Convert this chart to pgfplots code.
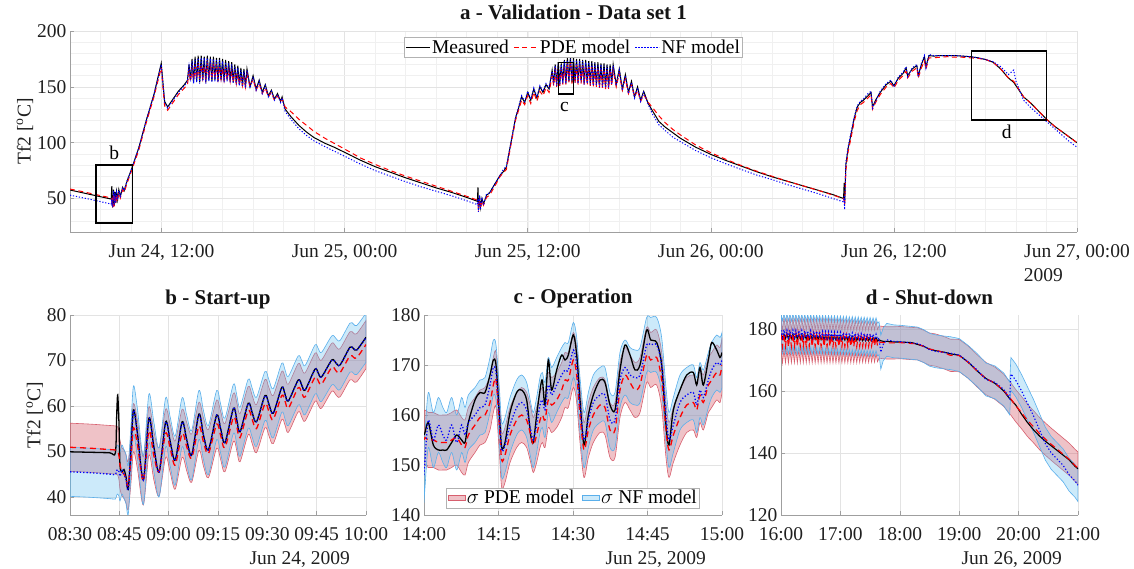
\documentclass[border=0pt]{standalone}
\usepackage{fontspec}
\setmainfont{Liberation Serif}
\usepackage{pgfplots}
\usepackage{pgfplotstable}
\pgfplotsset{compat=1.18}
\usepgfplotslibrary{fillbetween}

\newcommand\fs{\fontsize{19.5}{22}\selectfont}
\newcommand\ft{\fontsize{21}{24}\selectfont\bfseries}

\definecolor{pdefill}{RGB}{210,80,95}
\definecolor{pdeedge}{RGB}{215,95,110}
\definecolor{nffill}{RGB}{100,190,240}
\definecolor{nfedge}{RGB}{90,175,235}

% top panel: hours from Jun 24 00:00
\pgfplotstableread{
t M P N
6.0 57.6 58.5 53.0
7.0 54.6 55.6 50.2
8.0 51.6 52.6 47.2
8.70 49.5 50.5 45.0
8.74 61.0 50.0 50.0
8.76 46.0 47.0 44.0
8.80 42.0 42.0 42.0
8.85 58.0 55.0 57.0
8.90 44.0 43.0 44.0
8.95 56.0 53.0 55.0
9.00 46.0 45.0 46.0
9.05 56.0 53.5 55.0
9.12 49.0 48.0 49.0
9.20 58.0 55.5 57.0
9.30 52.0 50.5 52.0
9.45 60.0 58.0 60.0
9.55 57.0 55.5 57.0
9.75 66.0 64.0 66.0
10.0 75.0 73.5 75.0
10.5 95.0 93.0 95.0
11.0 120.0 118.0 120.0
11.5 143.0 141.0 143.0
11.98 171.0 167.0 170.0
12.2 137.0 133.0 136.0
12.4 132.0 129.0 131.0
12.8 140.0 137.0 139.0
13.1 146.0 143.0 145.0
13.5 152.0 149.0 151.0
13.7 156.0 152.0 155.0
13.8 170 164 168
13.9 156 155 155
14.0 175 167 173
14.1 154 156 153
14.2 177 168 175
14.3 155 157 154
14.4 178 169 176
14.5 154 157 153
14.6 178 170 176
14.7 156 158 155
14.8 177 169 176
14.9 154 157 153
15.0 178 170 176
15.1 156 158 155
15.2 177 169 175
15.3 155 157 154
15.4 177 169 175
15.5 156 158 155
15.6 176 168 174
15.7 155 157 154
15.8 176 168 174
15.9 156 157 155
16.0 175 167 173
16.1 155 156 154
16.2 174 166 172
16.3 156 156 155
16.4 173 165 171
16.5 155 155 154
16.6 172 164 170
16.7 154 154 153
16.8 170 163 168
16.9 153 153 152
17.0 169 162 167
17.1 152 152 151
17.2 167 160 165
17.3 151 151 150
17.4 166 159 164
17.5 150 150 149
17.6 166 162 165
17.8 150 150 149
18.0 160 157 159
18.2 148 147 147
18.4 156 153 155
18.6 145 144 144
18.8 152 149 151
19.0 142 141 141
19.2 147 145 146
19.4 139 138 138
19.6 144 142 143
19.8 137 137 136
19.9 141 139 140
20.1 130 132 128
20.5 123 127.5 120.5
21.0 115.5 121 112.5
21.5 109.5 115.5 106.5
22.0 104.5 110 101.5
22.7 99.5 104 96.5
23.3 96 99.5 92.5
23.9 92 95 88.5
24.5 88 90.5 84.5
25.0 84.5 86.5 81
26.0 78.5 80.5 75
27.0 73.5 75 70
28.0 68.5 70 65
29.0 64 65.5 60.5
30.0 59.5 61 56.5
31.0 55.5 56.5 52.5
32.0 51 52 48
32.70 47.5 48.5 44.5
32.74 60 47.5 50
32.77 40 42 38
32.85 52 50 53
32.9 42 41 40
33.0 50 48 51
33.1 45 44 44
33.3 53 51 54
33.5 55 53 55
33.8 62 60 62
34.2 71 70 71
34.4 74 73 76
34.6 78 76 79
34.9 100 98 100
35.2 122 120 122
35.4 131 129 132
35.6 141 138 142
35.8 136 134 137
36.0 145 142 146
36.2 138 135 139
36.4 148 145 149
36.6 140 137 141
36.8 150 146 151
37.0 145 142 146
37.2 152 149 153
37.4 148 145 149
37.6 165 160 164
37.7 153 151 152
37.8 170 164 169
37.9 152 150 151
38.0 172 166 171
38.1 153 151 152
38.2 171 167 170
38.3 154 152 153
38.4 174 168 173
38.5 153 152 153
38.6 176 171 174
38.7 155 154 155
38.8 177 172 175
38.9 154 153 155
39.0 176 171 174
39.1 155 153 154
39.2 175 170 174
39.3 154 152 153
39.4 175 170 173
39.5 155 153 154
39.6 174 169 173
39.7 153 152 152
39.8 174 169 172
39.9 154 152 153
40.0 173 168 172
40.1 153 151 152
40.2 173 168 171
40.3 152 150 151
40.4 172 167 171
40.5 152 150 151
40.6 172 167 170
40.7 151 149 150
40.8 171 166 170
40.9 151 149 150
41.0 171 166 169
41.1 150 148 149
41.2 170 165 169
41.3 150 148 149
41.4 170 165 168
41.5 153 151 152
41.6 170 165 169
41.8 152 150 151
42.0 166 162 165
42.2 148 147 147
42.4 161 157 160
42.6 145 144 144
42.8 155 152 154
43.0 141 141 140
43.2 150 147 149
43.4 138 137 137
43.6 146 143 145
43.9 135 136 134
44.2 128 131 125
44.6 119 124 116
45.0 114 118 111
45.5 109 112 105
46.0 104 107 101
47.0 96 98 93
48.0 89.5 91 86.5
49.0 84 85 81
50.0 79 79.5 76
51.0 74 74.5 71
52.0 69.5 70 67
53.0 65.5 65.5 62.5
54.0 61.5 61.5 58.5
55.0 57.5 57.5 54.5
56.0 53.5 53 50
56.70 50 50 47
56.74 64 48 52
56.77 45 44 40
56.85 80 75 82
57.0 95 92 96
57.2 108 105 110
57.4 122 119 123
57.6 132 129 133
57.8 136 134 137
58.0 138 136 139
58.3 142 140 144
58.5 145 143 146
58.6 132 130 131
58.8 138 136 137
59.1 145 143 146
59.5 152 150 153
59.8 155 153 156
60.0 151 149 150
60.3 158 156 159
60.6 162 160 163
60.8 167 164 168
60.9 160 158 159
61.2 166 164 167
61.5 169 167 170
61.6 160 158 159
61.8 170 167 171
62.0 177 173 178
62.1 168 166 167
62.3 178 176 179
62.6 177.5 176 178
63.0 178 176.5 178
63.5 178 177 178
64.0 178 176.5 178
64.5 177.5 176.5 177.5
65.0 177 176 177
65.5 176 175.5 176
66.0 174.5 174.5 174.5
66.5 172 172 172.5
67.0 166 166 168
67.5 158 158 161
67.85 154 155 165
68.0 151 152 155
68.5 141 141 138
69.0 135 135 131
69.5 128 128 125
70.0 121 121 119
70.5 115 115 113
71.0 110 110 107
71.5 105 105 101
72.0 100 100 96
}\tabA

% panel b: minutes from 08:30, Jun 24
\pgfplotstableread{
t M P N sP sN
0 49.9 50.9 45.5 5.3 5.4
6 49.8 50.7 45.3 5.3 5.4
12 49.7 50.4 45.0 5.3 5.4
13.8 49.7 50.3 44.9 5.3 5.4
14.2 58 50.2 45.8 5.3 5.4
14.5 62.4 50.1 46.0 5.3 5.4
14.9 56 49 45.5 5.3 5.4
15.2 47 47 44.5 5.3 5.4
15.8 45.5 45.5 46.0 5.3 5.4
16.4 46 45 45 5.3 5.4
17.0 44.5 44 44 5.3 5.4
17.7 41.6 42.5 41.5 5.3 5.4
18.5 50 48 50 5.3 5.4
19.3 59.1 55.2 59 5.3 5.4
20.5 54 51.5 54 5.3 5.4
22.3 43.7 43.5 43.7 5.3 5.4
24.0 57.3 54.5 57.2 5.3 5.4
25.5 51 49 51 5.3 5.4
27.1 45.5 45.5 45.4 5.3 5.4
29.1 56.5 54 56.4 5.3 5.4
30.5 52 50.5 52 5.3 5.4
32.0 48.1 47 48 5.3 5.4
34.1 56.5 54 56.4 5.3 5.4
35.5 52.5 51 52.5 5.3 5.4
37.0 49.2 48.5 49.2 5.3 5.4
39.2 58.2 55.5 58 5.3 5.4
40.6 53.5 52 53.5 5.3 5.4
42.1 50.3 49.5 50.3 5.3 5.4
44.6 58.0 56 58 5.3 5.4
45.8 55 53.5 55 5.3 5.4
47.1 51.9 50.8 51.9 5.3 5.4
49.7 59.5 57.5 59.4 5.3 5.4
50.7 57 55.5 57 5.3 5.4
51.7 54.3 53 54.3 5.3 5.4
54.2 60.6 59 60.5 5.3 5.4
55.4 58.5 57 58.5 5.3 5.4
56.7 56.5 55 56.5 5.3 5.4
59.3 62.3 60.5 62.2 5.3 5.4
60.5 60.3 58.7 60.3 5.3 5.4
61.8 58.4 57 58.4 5.3 5.4
64.4 64.1 62.3 64 5.3 5.4
65.4 62.5 61 62.5 5.3 5.4
66.4 61.1 59.5 61.1 5.3 5.4
69.4 65.7 64 65.6 5.3 5.4
70.5 64.5 62.8 64.5 5.3 5.4
71.5 63.5 62 63.5 5.3 5.4
74.5 68.1 66.3 68 5.3 5.4
75.5 67.2 65.5 67.2 5.3 5.4
76.5 66.4 64.8 66.4 5.3 5.4
79.6 70.1 68.5 70 5.3 5.4
80.8 69.5 67.8 69.5 5.3 5.4
82.1 69 67.3 69 5.3 5.4
85.1 72.9 71 72.8 5.3 5.4
86.2 72.6 70.7 72.6 5.3 5.4
87.2 72.3 70.6 72.3 5.3 5.4
90 75.1 73.5 75 5.3 5.4
}\tabB

% panel c: minutes from 14:00, Jun 25
\pgfplotstableread{
t M P N sP sN
0 156 155 148 5.5 5.5
0.2 156.5 155.5 151 5.5 5.5
0.87 158.5 155 159 5.5 5.5
1.88 154 155 155 5.5 5.5
2.89 153 154.5 158 5.5 5.5
3.8 153 154.5 156 5.5 5.5
4.56 153 154.5 155 5.5 5.5
5.57 154.5 155 158 5.5 5.5
6.58 156 155.5 154.5 5.5 5.5
7.58 155 154 158 5.5 5.5
8.26 154.5 153.5 156 5.5 5.5
8.93 158.5 156 158.5 5.5 5.5
10.27 163 158 160 5.5 5.5
11.28 164.5 159.5 161.5 5.5 5.5
12.28 164.5 160 162 5.5 5.5
13.29 168 162.5 166 5.5 5.5
13.96 171 166 169.5 5.5 5.5
14.5 170 167 168.5 5.5 5.5
15.17 160 158 160 5.5 5.5
15.64 153.5 151 153 5.5 5.5
16.31 154.5 152 154 5.5 5.5
17.32 160.5 156 158 5.5 5.5
18.66 164.5 159 161.5 5.5 5.5
19.66 165 160 162.5 5.5 5.5
20.67 163 159 161 5.5 5.5
21.48 156 156 157 5.5 5.5
22.01 154.5 154 155 5.5 5.5
22.68 160 156 158 5.5 5.5
23.36 165 159 162 5.5 5.5
23.83 167 160 163 5.5 5.5
24.36 162 159 161 5.5 5.5
25.03 171 163 166 5.5 5.5
25.7 165 162 164 5.5 5.5
26.71 169 163 166 5.5 5.5
27.72 172 165 168 5.5 5.5
28.39 171 167 169 5.5 5.5
29.06 172 167 169 5.5 5.5
30.07 176 171 173 5.5 5.5
30.74 172 168 170 5.5 5.5
31.41 163 160 162 5.5 5.5
32.21 154 153 155 5.5 5.5
33.09 160 157 159 5.5 5.5
34.09 164 160 162.5 5.5 5.5
35.44 167 162 164 5.5 5.5
36.44 166.5 161.5 164 5.5 5.5
37.45 162 157 159 5.5 5.5
38.46 161 157 159 5.5 5.5
39.46 169 165 167 5.5 5.5
40.47 174 168 169.5 5.5 5.5
41.48 172 166.5 168 5.5 5.5
42.48 169 165 167.5 5.5 5.5
43.49 170 166 168 5.5 5.5
44.83 177 172 174 5.5 5.5
45.64 175 171 174 5.5 5.5
46.85 174.5 171.5 174 5.5 5.5
47.85 170 167 170 5.5 5.5
48.72 158 157 160 5.5 5.5
49.33 154 153 155 5.5 5.5
50.2 161 156 158 5.5 5.5
51.54 165 159.5 162.5 5.5 5.5
52.89 168 162 164 5.5 5.5
54.23 168.5 162.5 164.5 5.5 5.5
54.9 166 161 162 5.5 5.5
55.57 169.5 164 165 5.5 5.5
56.24 166 162.5 163.5 5.5 5.5
57.25 171 166 167 5.5 5.5
57.92 174.5 167 169 5.5 5.5
58.93 173 168.5 170.5 5.5 5.5
59.6 171.5 168 170 5.5 5.5
60 172.5 170 171 5.5 5.5
}\tabC

% panel d: hours, Jun 26
\pgfplotstableread{
t M P N sP sN
16.000 178.3 178.5 179.6 5.2 5.3
16.025 176.9 174.2 177.3 5.2 5.3
16.050 178.3 178.6 179.7 5.2 5.3
16.075 176.9 174.3 177.3 5.2 5.3
16.100 178.3 178.5 179.6 5.2 5.3
16.125 176.9 174.2 177.3 5.2 5.3
16.150 178.2 178.6 179.6 5.2 5.3
16.175 176.9 174.3 177.2 5.2 5.3
16.200 178.2 178.5 179.6 5.2 5.3
16.225 176.8 174.3 177.3 5.2 5.3
16.250 178.2 178.6 179.5 5.2 5.3
16.275 176.8 174.2 177.2 5.2 5.3
16.300 178.2 178.5 179.5 5.2 5.3
16.325 176.8 174.3 177.2 5.2 5.3
16.350 178.1 178.5 179.5 5.2 5.3
16.375 176.8 174.3 177.2 5.2 5.3
16.400 178.1 178.4 179.4 5.2 5.3
16.425 176.7 174.3 177.2 5.2 5.3
16.450 178.1 178.5 179.4 5.2 5.3
16.475 176.7 174.3 177.1 5.2 5.3
16.500 178.0 178.4 179.4 5.2 5.3
16.525 176.7 174.3 177.1 5.2 5.3
16.550 178.0 178.4 179.3 5.2 5.3
16.575 176.7 174.3 177.1 5.2 5.3
16.600 178.0 178.3 179.3 5.2 5.3
16.625 176.6 174.3 177.1 5.2 5.3
16.650 177.9 178.3 179.2 5.2 5.3
16.675 176.6 174.3 177.0 5.2 5.3
16.700 177.9 178.3 179.2 5.2 5.3
16.725 176.6 174.3 177.0 5.2 5.3
16.750 177.9 178.2 179.1 5.2 5.3
16.775 176.5 174.3 177.0 5.2 5.3
16.800 177.8 178.2 179.1 5.2 5.3
16.825 176.5 174.3 177.0 5.2 5.3
16.850 177.8 178.1 179.0 5.2 5.3
16.875 176.5 174.3 176.9 5.2 5.3
16.900 177.7 178.1 179.0 5.2 5.3
16.925 176.5 174.3 176.9 5.2 5.3
16.950 177.7 178.0 178.9 5.2 5.3
16.975 176.4 174.3 176.9 5.2 5.3
17.000 177.7 178.0 178.9 5.2 5.3
17.025 176.4 174.3 176.9 5.2 5.3
17.050 177.6 177.9 178.8 5.2 5.3
17.075 176.4 174.3 176.8 5.2 5.3
17.100 177.6 177.9 178.8 5.2 5.3
17.125 176.4 174.3 176.8 5.2 5.3
17.150 177.5 177.8 178.7 5.2 5.3
17.175 176.3 174.3 176.8 5.2 5.3
17.200 177.5 177.8 178.7 5.2 5.3
17.225 176.3 174.3 176.8 5.2 5.3
17.250 177.4 177.7 178.6 5.2 5.3
17.275 176.3 174.3 176.7 5.2 5.3
17.300 177.4 177.7 178.6 5.2 5.3
17.325 176.3 174.4 176.7 5.2 5.3
17.350 177.3 177.6 178.5 5.2 5.3
17.375 176.2 174.4 176.7 5.2 5.3
17.400 177.3 177.6 178.5 5.2 5.3
17.425 176.2 174.4 176.7 5.2 5.3
17.450 177.3 177.5 178.4 5.2 5.3
17.475 176.2 174.4 176.6 5.2 5.3
17.500 177.2 177.5 178.4 5.2 5.3
17.525 176.2 174.5 176.6 5.2 5.3
17.550 177.2 177.4 178.3 5.2 5.3
17.575 176.1 174.5 176.6 5.2 5.3
17.600 177.1 177.3 178.3 5.2 5.3
17.625 176.1 174.6 176.6 5.2 5.3
17.650 176.5 175.8 177.0 5.2 5.3
17.680 176.2 175.7 172.5 5.2 5.5
17.720 176.0 175.6 175.0 5.2 5.3
17.780 176.0 175.5 176.5 5.2 5.3
17.900 175.8 175.5 176.0 5.2 5.3
18.000 175.8 175.6 175.9 5.2 5.3
18.200 175.6 175.3 175.5 5.2 5.3
18.300 175.0 175.2 175.3 5.2 5.3
18.400 174.4 174.4 174.5 5.2 5.3
18.500 173.5 173.5 173.3 5.2 5.3
18.600 173.0 173.2 172.8 5.2 5.3
18.750 172.5 172.3 172.4 5.2 5.3
18.850 172.0 171.5 172.2 5.2 5.3
19.000 171.5 171.4 171.6 5.2 5.3
19.150 169.3 169.3 169.4 5.2 5.3
19.300 166.5 166.5 166.8 5.2 5.3
19.450 164.0 164.0 163.7 5.2 5.3
19.600 162.5 162.5 162.8 5.2 5.3
19.750 160.0 160.2 160.5 5.2 5.3
19.850 157.5 157.8 157.6 5.2 5.3
19.870 157.2 157.4 165.5 5.2 5.3
19.950 155.5 155.3 163.5 5.2 5.3
20.050 152.5 153.0 160.0 5.2 5.3
20.150 149.8 150.5 156.0 5.2 5.3
20.250 147.5 148.5 152.0 5.2 5.3
20.350 145.5 146.3 147.5 5.2 5.3
20.450 143.8 144.5 143.0 5.2 5.3
20.550 142.3 142.8 140.0 5.2 5.3
20.650 140.8 141.2 138.0 5.2 5.3
20.750 139.3 139.6 136.0 5.2 5.3
20.850 137.8 138.0 133.0 5.2 5.3
20.950 135.7 136.0 131.0 5.2 5.3
21.000 134.9 135.1 129.6 5.2 5.3
}\tabD

\pgfplotsset{
  myax/.style={
    scale only axis,
    axis x line*=bottom, axis y line*=left,
    axis line style={gray!75,-},
    tick align=inside, major tick length=4pt, minor tick length=0pt,
    tick style={gray!75, line width=0.5pt},
    major grid style={gray!22, line width=0.5pt},
    minor grid style={gray!12, line width=0.4pt},
    tick label style={font=\fs, text=black!88},
    xticklabel style={yshift=-9pt},
    label style={font=\fs, text=black!88},
    ylabel shift=-3pt,
    xlabel style={at={(axis description cs:1,0)}, anchor=north east, inner sep=0pt, xshift=-16pt, yshift=-36pt},
    title style={font=\ft, text=black!92, at={(0.5,1)}, anchor=base, yshift=5pt, inner sep=0pt},
    /pgf/number format/assume math mode=true,
  },
  meas/.style={black, line width=1.3pt},
  pde/.style={red, line width=1.3pt, dash pattern=on 6pt off 4pt},
  nf/.style={blue, line width=1.3pt, dash pattern=on 1.3pt off 2pt},
  pdeband/.style={fill=pdefill, fill opacity=0.35, draw=pdeedge, line width=0.6pt},
  nfband/.style={fill=nffill, fill opacity=0.33, draw=nfedge, line width=0.6pt},
}

\begin{document}
\begin{tikzpicture}

% ---------------- a ----------------
\begin{axis}[myax, at={(70pt,336pt)}, anchor=south west,
  width=1007pt, height=201pt,
  xmin=6, xmax=72, ymin=20, ymax=200,
  xtick={12,24,36,48,60,72},
  xticklabels={{Jun 24, 12:00},{Jun 25, 00:00},{Jun 25, 12:00},{Jun 26, 00:00},{Jun 26, 12:00},{Jun 27, 00:00}},
  minor xtick={6,8,...,72},
  ytick={50,100,150,200},
  minor ytick={20,30,...,200},
  grid=both,
  xlabel={2009},
  xlabel style={xshift=2pt, yshift=0pt},
  ylabel={Tf2 [\textsuperscript{o}C]},
  title={a - Validation - Data set 1},
  legend columns=3,
  legend image code/.code={\draw[#1] (0pt,0pt) -- (24pt,0pt);},
  legend style={at={(0.5,0.97)}, anchor=north, font=\fs, draw=gray!60, fill=white,
    inner sep=1pt, nodes={inner sep=1.5pt},
    /tikz/every even column/.append style={column sep=3pt}},
]
\addplot[black, line width=1pt] table[x=t,y=M]{\tabA};
\addlegendentry{Measured}
\addplot[red, line width=1pt, dash pattern=on 5pt off 3.5pt] table[x=t,y=P]{\tabA};
\addlegendentry{PDE model}
\addplot[blue, line width=1pt, dash pattern=on 1.2pt off 1.8pt] table[x=t,y=N]{\tabA};
\addlegendentry{NF model}
\draw[black, line width=1.2pt] (axis cs:7.7,28) rectangle (axis cs:10.1,80);
\node[font=\fs] at (axis cs:8.9,90.5) {b};
\draw[black, line width=1.2pt] (axis cs:38,143.5) rectangle (axis cs:39,172);
\node[font=\fs] at (axis cs:38.4,132) {c};
\draw[black, line width=1.2pt] (axis cs:65.1,120.3) rectangle (axis cs:70.0,182);
\node[font=\fs] at (axis cs:67.4,110) {d};
\end{axis}

% ---------------- b ----------------
\begin{axis}[myax, at={(70pt,53pt)}, anchor=south west,
  width=296pt, height=200pt,
  xmin=0, xmax=90, ymin=36, ymax=80,
  xtick={0,15,30,45,60,75,90},
  xticklabels={08:30,08:45,09:00,09:15,09:30,09:45,10:00},
  ytick={40,50,60,70,80},
  grid=major,
  xlabel={Jun 24, 2009},
  ylabel={Tf2 [\textsuperscript{o}C]},
  title={b - Start-up},
]
\addplot[name path=bpu, draw=none, forget plot, smooth] table[x=t, y expr=\thisrow{P}+\thisrow{sP}]{\tabB};
\addplot[name path=bpl, draw=none, forget plot, smooth] table[x=t, y expr=\thisrow{P}-\thisrow{sP}]{\tabB};
\addplot[pdeband, forget plot] fill between[of=bpu and bpl];
\addplot[name path=bnu, draw=none, forget plot, smooth] table[x=t, y expr=\thisrow{N}+\thisrow{sN}]{\tabB};
\addplot[name path=bnl, draw=none, forget plot, smooth] table[x=t, y expr=\thisrow{N}-\thisrow{sN}]{\tabB};
\addplot[nfband, forget plot] fill between[of=bnu and bnl];
\addplot[meas, smooth, forget plot] table[x=t,y=M]{\tabB};
\addplot[pde, smooth, forget plot] table[x=t,y=P]{\tabB};
\addplot[nf, smooth, forget plot] table[x=t,y=N]{\tabB};
\end{axis}

% ---------------- c ----------------
\begin{axis}[myax, at={(424pt,53pt)}, anchor=south west,
  width=298pt, height=200pt,
  xmin=0, xmax=60, ymin=140, ymax=180,
  xtick={0,15,30,45,60},
  xticklabels={14:00,14:15,14:30,14:45,15:00},
  ytick={140,150,160,170,180},
  grid=major,
  xlabel={Jun 25, 2009},
  title={c - Operation},
  legend columns=2,
  legend image code/.code={\draw[#1] (0pt,-5pt) rectangle (22pt,8pt);},
  legend style={at={(0.5,0.035)}, anchor=south, font=\fs, draw=gray!60, fill=white,
    inner sep=1pt, nodes={inner sep=1.5pt},
    /tikz/every even column/.append style={column sep=6pt}},
]
\addplot[name path=cpu, draw=none, forget plot, smooth] table[x=t, y expr=\thisrow{P}+\thisrow{sP}]{\tabC};
\addplot[name path=cpl, draw=none, forget plot, smooth] table[x=t, y expr=\thisrow{P}-\thisrow{sP}]{\tabC};
\addplot[pdeband] fill between[of=cpu and cpl];
\addlegendentry{$\sigma$ PDE model}
\addplot[name path=cnu, draw=none, forget plot, smooth] table[x=t, y expr=\thisrow{N}+\thisrow{sN}]{\tabC};
\addplot[name path=cnl, draw=none, forget plot, smooth] table[x=t, y expr=\thisrow{N}-\thisrow{sN}]{\tabC};
\addplot[nfband] fill between[of=cnu and cnl];
\addlegendentry{$\sigma$ NF model}
\addplot[meas, smooth, forget plot] table[x=t,y=M]{\tabC};
\addplot[pde, smooth, forget plot] table[x=t,y=P]{\tabC};
\addplot[nf, smooth, forget plot] table[x=t,y=N]{\tabC};
\end{axis}

% ---------------- d ----------------
\begin{axis}[myax, at={(781pt,53pt)}, anchor=south west,
  width=297pt, height=200pt,
  xmin=16, xmax=21, ymin=120, ymax=184.5,
  xtick={16,17,18,19,20,21},
  xticklabels={16:00,17:00,18:00,19:00,20:00,21:00},
  ytick={120,140,160,180},
  grid=major,
  xlabel={Jun 26, 2009},
  title={d - Shut-down},
]
\addplot[name path=dpu, draw=none, forget plot] table[x=t, y expr=\thisrow{P}+\thisrow{sP}]{\tabD};
\addplot[name path=dpl, draw=none, forget plot] table[x=t, y expr=\thisrow{P}-\thisrow{sP}]{\tabD};
\addplot[pdeband, forget plot] fill between[of=dpu and dpl];
\addplot[name path=dnu, draw=none, forget plot] table[x=t, y expr=\thisrow{N}+\thisrow{sN}]{\tabD};
\addplot[name path=dnl, draw=none, forget plot] table[x=t, y expr=\thisrow{N}-\thisrow{sN}]{\tabD};
\addplot[nfband, forget plot] fill between[of=dnu and dnl];
\addplot[meas, line width=1.1pt, forget plot] table[x=t,y=M]{\tabD};
\addplot[pde, line width=1.1pt, forget plot] table[x=t,y=P]{\tabD};
\addplot[nf, line width=1.1pt, forget plot] table[x=t,y=N]{\tabD};
\end{axis}

\pgfresetboundingbox
\useasboundingbox (0,0) rectangle (1134pt,568pt);
\end{tikzpicture}
\end{document}
